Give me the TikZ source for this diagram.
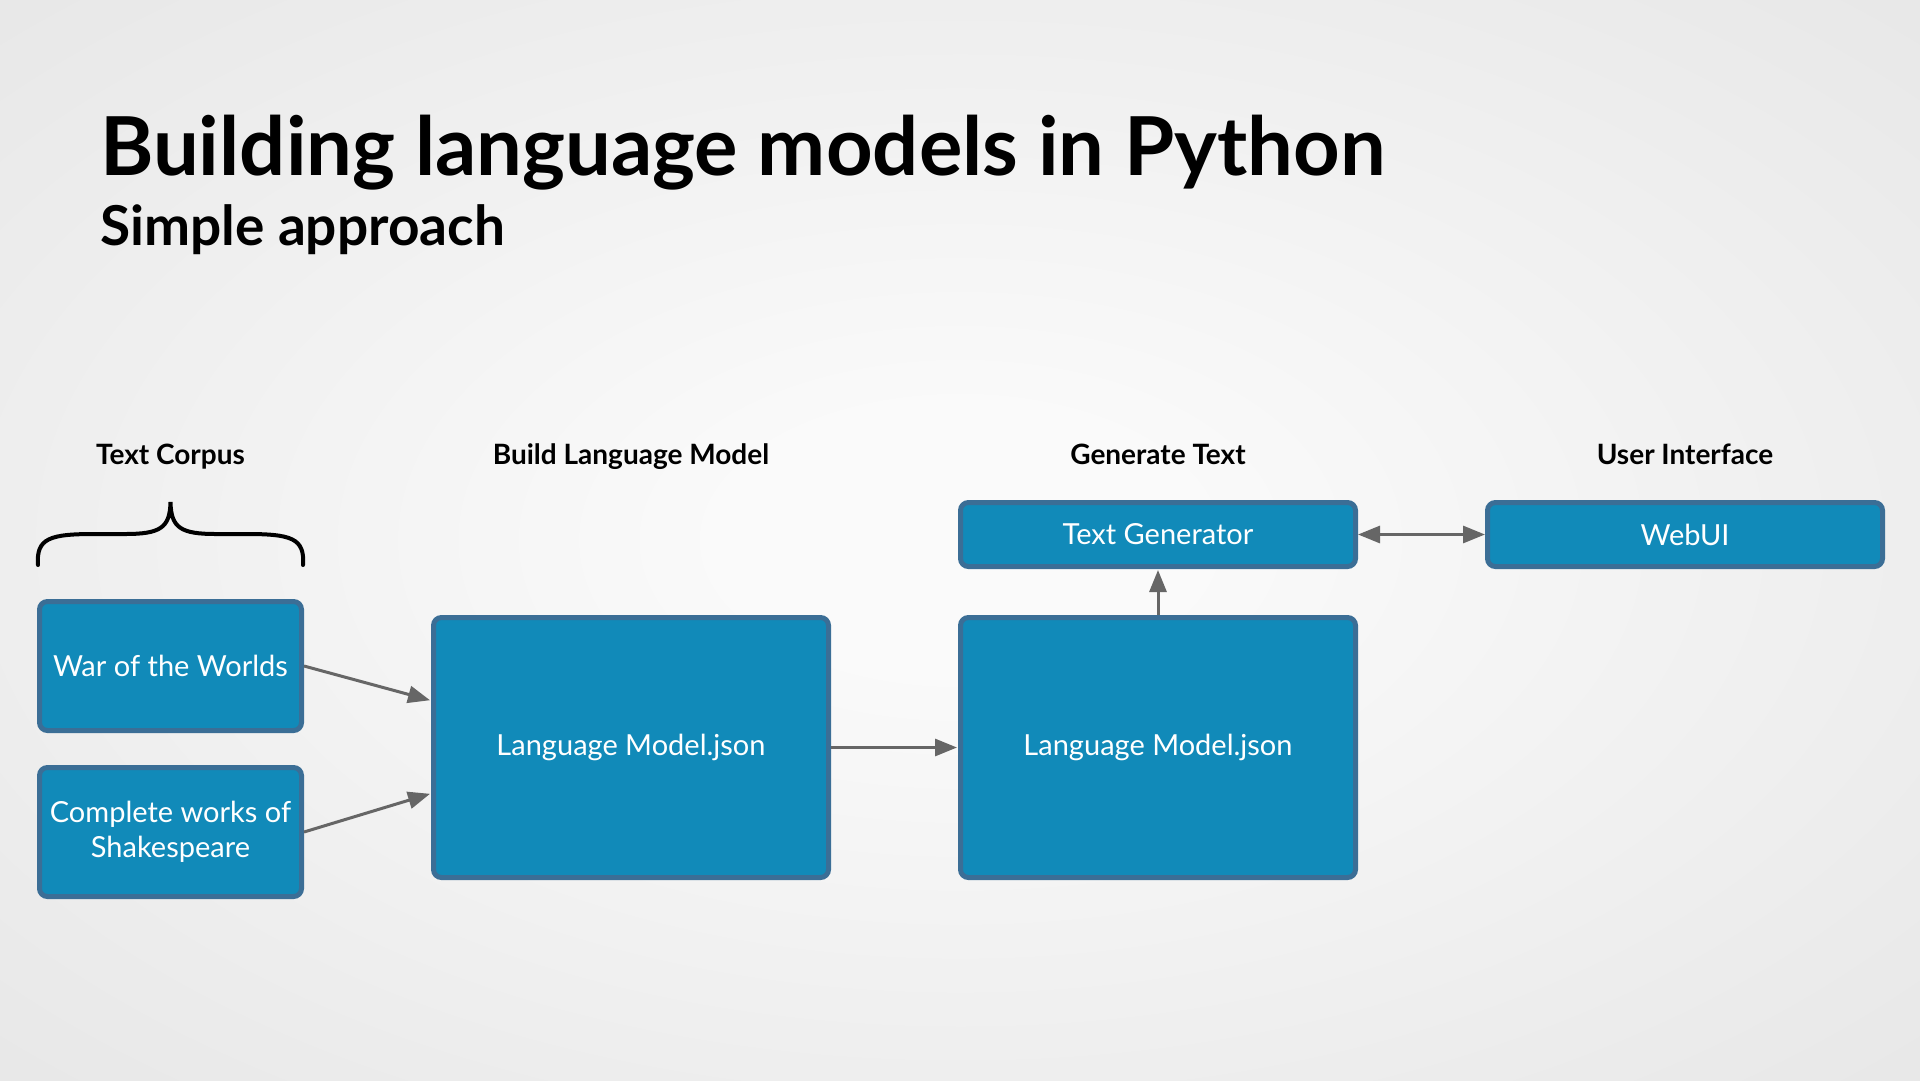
\documentclass[tikz,border=0pt]{standalone}
\usepackage{fontspec}
\setmainfont{Lato}
\usepackage{tikz}
\usetikzlibrary{arrows.meta,positioning,calc}
\definecolor{boxblue}{RGB}{17,138,185}
\definecolor{boxedge}{RGB}{59,110,150}
\definecolor{arrgray}{RGB}{102,102,102}
\definecolor{bgin}{RGB}{250,250,250}
\definecolor{bgmid}{RGB}{236,236,236}
\definecolor{bgedge}{RGB}{223,223,223}
\definecolor{bgout}{RGB}{216,216,216}
\pgfdeclareradialshading{slidebg}{\pgfpoint{0bp}{0bp}}{color(0bp)=(bgin); color(6bp)=(bgin); color(28bp)=(bgmid); color(50bp)=(bgedge); color(58bp)=(bgout)}
\tikzset{
  box/.style={rectangle,draw=boxedge,fill=boxblue,line width=5pt,rounded corners=8pt,
    text=white,align=center,inner sep=0pt,font=\fontsize{29}{35}\selectfont},
  srcbox/.style={box,minimum width=262pt,minimum height=129pt},
  bigbox/.style={box,minimum width=395pt,minimum height=260pt},
  barbox/.style={box,minimum width=395pt,minimum height=64pt},
  head/.style={anchor=base,font=\fontsize{28}{34}\selectfont\bfseries},
  arr/.style={-{Triangle[length=22pt,width=17pt]},line width=3pt,color=arrgray,shorten >=1pt},
  biarr/.style={{Triangle[length=22pt,width=17pt]}-{Triangle[length=22pt,width=17pt]},
    line width=3pt,color=arrgray}
}

\begin{document}
\begin{tikzpicture}[x=1pt,y=-1pt]
    \shade[shading=slidebg] (0,0) rectangle (1920,1080);
    \useasboundingbox (0,0) rectangle (1920,1080);

    \node[anchor=base west,inner sep=0pt,font=\fontsize{81.3}{92}\selectfont\bfseries] (title) at (100,175) {Building language models in Python};
    \node[anchor=base west,inner sep=0pt,font=\fontsize{55}{64}\selectfont\bfseries] (subtitle) at (100,245) {Simple approach};

    % columns
    \node[bigbox] (lm1) at (631,747.5) {Language Model.json};
    \node[bigbox,right=127pt of lm1] (lm2) {Language Model.json};
    \node[barbox,above=46pt of lm2] (gen) {Text Generator};
    \node[barbox,right=127pt of gen] (webui) {WebUI};
    \node[srcbox] (war) at (170.5,666) {War of the Worlds};
    \node[srcbox,below=32pt of war] (shakes) {Complete works of\\ Shakespeare};

    \node[head] (hcorpus) at (170.5,464) {Text Corpus};
    \node[head] (hbuild) at (631,464) {Build Language Model};
    \node[head] (hgen) at (lm2 |- hbuild.base) {Generate Text};
    \node[head] (hui) at (webui |- hbuild.base) {User Interface};

    % brace over the corpus
    \draw[line width=4pt,line cap=round] (38,565) .. controls (36,538) and (50,534) .. (95,534) -- (125,534)
      .. controls (160,534) and (170,528) .. (170.5,502) .. controls (171,528) and (181,534) .. (216,534)
      -- (246,534) .. controls (291,534) and (305,538) .. (303,565);

    \draw[arr] (war.east) -- ([yshift=47pt]lm1.west);
    \draw[arr] (shakes.east) -- ([yshift=-46pt]lm1.west);
    \draw[arr] (lm1.east) -- (lm2.west);
    \draw[arr] (lm2.north) -- (gen.south);
    \draw[biarr] (gen.east) -- (webui.west);
\end{tikzpicture}
\end{document}
